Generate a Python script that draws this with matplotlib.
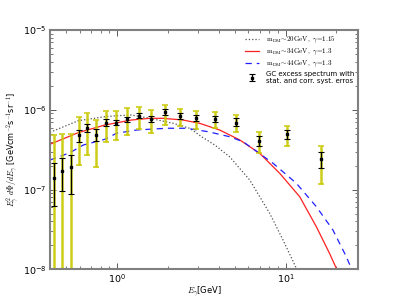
import matplotlib
matplotlib.use('Agg')
import matplotlib.pyplot as plt
import numpy as np

plt.rcParams['mathtext.fontset'] = 'cm'

# GC excess spectrum
energy = [0.422, 0.473, 0.530, 0.594, 0.665, 0.749, 0.858, 0.988, 1.148, 1.346,
          1.592, 1.927, 2.365, 2.958, 3.797, 5.056, 6.947, 10.18, 16.23]
flux = [1.39e-7, 1.73e-7, 1.94e-7, 4.84e-7, 5.88e-7, 4.84e-7, 6.90e-7, 6.90e-7, 7.61e-7, 8.44e-7,
        7.61e-7, 9.31e-7, 8.37e-7, 7.78e-7, 7.68e-7, 6.90e-7, 4.11e-7, 4.94e-7, 2.40e-7]
stat_lo = [6.3e-8, 9.6e-8, 8.8e-8, 3.99e-7, 5.24e-7, 4.11e-7, 6.27e-7, 6.40e-7, 6.98e-7, 7.83e-7,
           6.98e-7, 8.54e-7, 7.74e-7, 7.18e-7, 6.98e-7, 6.27e-7, 3.56e-7, 4.28e-7, 1.85e-7]
stat_hi = [2.14e-7, 2.47e-7, 2.72e-7, 5.58e-7, 6.64e-7, 5.70e-7, 7.61e-7, 7.47e-7, 8.20e-7, 9.05e-7,
           8.37e-7, 1.016e-6, 9.05e-7, 8.62e-7, 8.44e-7, 7.83e-7, 4.74e-7, 5.58e-7, 2.94e-7]
syst_lo = [1e-9, 1e-9, 1e-9, 2.02e-7, 2.72e-7, 1.92e-7, 3.92e-7, 4.19e-7, 4.84e-7, 5.75e-7,
           5.17e-7, 6.46e-7, 6.27e-7, 5.75e-7, 5.88e-7, 5.33e-7, 2.85e-7, 3.52e-7, 1.18e-7]
syst_hi = [4.84e-7, 5.03e-7, 5.03e-7, 8.05e-7, 9.05e-7, 7.47e-7, 9.75e-7, 9.59e-7, 1.045e-6, 1.076e-6,
           9.96e-7, 1.14e-6, 1.033e-6, 9.75e-7, 9.31e-7, 8.62e-7, 5.33e-7, 6.33e-7, 3.56e-7]

# DM model spectra
e_20 = [0.400, 0.588, 0.847, 0.993, 1.219, 1.564, 2.149, 2.70, 3.17, 3.80, 4.65, 6.12, 8.04, 9.64, 11.57, 12.1]
f_20 = [5.22e-7, 7.30e-7, 8.19e-7, 8.43e-7, 8.61e-7, 7.82e-7, 6.78e-7, 5.86e-7, 4.60e-7, 3.62e-7,
        2.58e-7, 1.32e-7, 5.04e-8, 2.34e-8, 1.03e-8, 7.4e-9]
e_34 = [0.400, 0.588, 0.847, 1.219, 1.564, 1.867, 2.455, 3.09, 4.06, 5.34, 7.01, 9.22, 12.11, 15.2,
        18.2, 19.97, 20.8]
f_34 = [3.70e-7, 5.17e-7, 6.45e-7, 7.45e-7, 7.82e-7, 7.82e-7, 7.45e-7, 6.77e-7, 5.58e-7, 4.19e-7,
        2.85e-7, 1.60e-7, 8.15e-8, 3.43e-8, 1.59e-8, 1.03e-8, 7.7e-9]
e_44 = [0.400, 0.428, 0.525, 0.630, 0.847, 0.993, 1.305, 1.965, 2.58, 3.46, 4.65, 5.59, 8.41, 11.57,
        15.2, 19.06, 22.9, 24.5, 25.0]
f_44 = [2.35e-7, 2.47e-7, 2.90e-7, 3.62e-7, 4.27e-7, 5.08e-7, 5.58e-7, 5.87e-7, 5.87e-7, 5.32e-7,
        4.60e-7, 3.98e-7, 2.14e-7, 1.20e-7, 6.11e-8, 3.12e-8, 1.44e-8, 1.03e-8, 8.5e-9]

flux = np.array(flux)
stat_err = [flux - np.array(stat_lo), np.array(stat_hi) - flux]
syst_err = [flux - np.array(syst_lo), np.array(syst_hi) - flux]

fig = plt.figure(figsize=(4, 3), dpi=100)
ax = fig.add_axes([0.125, 0.102, 0.771, 0.798])

ax.plot(e_20, f_20, linestyle=':', color='#505050', lw=0.9,
        label=r'$\mathrm{m_{DM}}\!\sim\!20\mathrm{GeV},\ \gamma\!=\!1.15$')
ax.plot(e_34, f_34, linestyle='-', color='#ff2020', lw=0.9,
        label=r'$\mathrm{m_{DM}}\!\sim\!34\mathrm{GeV},\ \gamma\!=\!1.3$')
ax.plot(e_44, f_44, linestyle=(0, (5, 4)), color='#2020ff', lw=0.9,
        label=r'$\mathrm{m_{DM}}\!\sim\!44\mathrm{GeV},\ \gamma\!=\!1.3$')

ax.errorbar(energy, flux, yerr=syst_err, fmt='none', ecolor='#c8c800',
            elinewidth=1.8, capsize=2.5, capthick=1.2, alpha=0.9)
ax.errorbar(energy, flux, yerr=stat_err, fmt='s', color='black', ms=2,
            elinewidth=0.9, capsize=2.5, capthick=0.8,
            label='GC excess spectrum with\nstat. and corr. syst. erros')

ax.set_xscale('log')
ax.set_yscale('log')
ax.set_xlim(0.4, 27)
ax.set_ylim(1e-8, 1e-5)

for s in ax.spines.values():
    s.set_color('#808080')
    s.set_linewidth(1.5)
ax.tick_params(which='both', direction='in', top=True, right=True, labelsize=6.8,
               color='#404040', pad=2.5)
ax.tick_params(which='major', length=4, width=0.6)
ax.tick_params(which='minor', length=2, width=0.5)

ax.set_xlabel(r'$E_\gamma$[GeV]', fontsize=6)
ax.xaxis.set_label_coords(0.5, -0.06)
ax.set_ylabel(r'$E_\gamma^2\ d\Phi/dE_\gamma$ [GeVcm$^{-2}$s$^{-1}$sr$^{-1}$]',
              fontsize=5.8, labelpad=1.5)

ax.legend(loc='upper right', frameon=False, fontsize=5, handlelength=2,
          handletextpad=1, labelspacing=0.25, borderaxespad=0.25)

fig.savefig('out.png', dpi=100)
